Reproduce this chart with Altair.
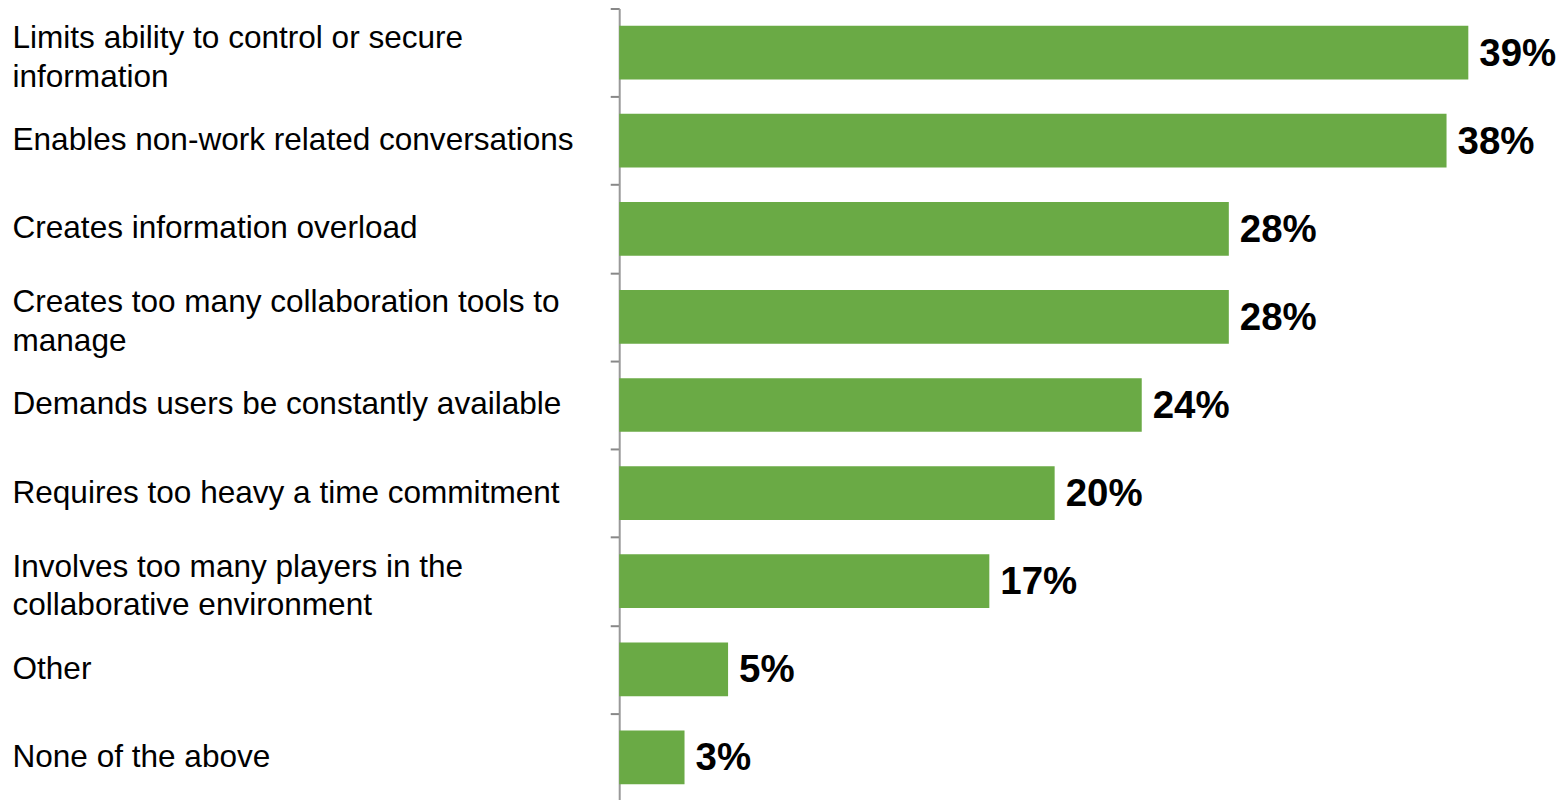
import altair as alt
import pandas as pd

categories = [
    "Limits ability to control or secure|information",
    "Enables non-work related conversations",
    "Creates information overload",
    "Creates too many collaboration tools to|manage",
    "Demands users be constantly available",
    "Requires too heavy a time commitment",
    "Involves too many players in the|collaborative environment",
    "Other",
    "None of the above",
]
values = [39, 38, 28, 28, 24, 20, 17, 5, 3]
value_labels = ["39%", "38%", "28%", "28%", "24%", "20%", "17%", "5%", "3%"]

df = pd.DataFrame({"cat": categories, "val": values, "lab": value_labels})

STEP = 794 / 9.0

y_enc = alt.Y(
    "cat:N",
    sort=categories,
    title=None,
    scale=alt.Scale(paddingInner=0.39, paddingOuter=0.195),
    axis=alt.Axis(
        orient="left",
        labelExpr="split(datum.label, '|')",
        labelAlign="left",
        labelBaseline="middle",
        labelPadding=599,
        tickOffset=-STEP / 2,
        labelOffset={
            "condition": {"test": "indexof(datum.value, '|') >= 0", "value": STEP / 2 - 14},
            "value": STEP / 2,
        },
        labelFont="Liberation Sans",
        labelFontSize=31.6,
        labelLineHeight=38.5,
        labelColor="#000000",
        labelLimit=0,
        tickSize=9,
        tickColor="#888888",
        tickWidth=2,
        domainColor="#999999",
        domainWidth=2,
        grid=False,
    ),
)

x_enc = alt.X(
    "val:Q",
    scale=alt.Scale(domain=[0, 40], nice=False),
    axis=None,
)

bars = alt.Chart(df).mark_bar(color="#6AAA45").encode(x=x_enc, y=y_enc)

text = alt.Chart(df).mark_text(
    align="left",
    baseline="middle",
    dx=11,
    dy=1,
    font="Liberation Sans",
    fontSize=38.5,
    fontWeight="bold",
    color="#000000",
).encode(x=x_enc, y=alt.Y("cat:N", sort=categories), text="lab:N")

chart = (
    alt.layer(bars, text)
    .properties(
        width=872,
        height=794,
        background="white",
        autosize=alt.AutoSizeParams(type="none"),
        padding={"left": 612, "top": 0, "right": 66, "bottom": 0},
    )
    .configure_view(strokeWidth=0, stroke="transparent")
)

chart.save("out.html", embed_options={"renderer": "svg", "actions": False})
